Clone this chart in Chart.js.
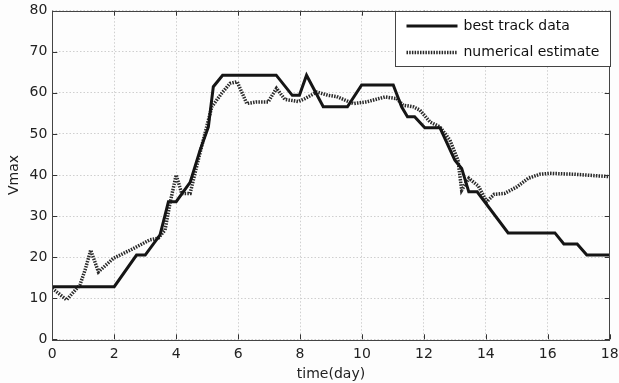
<!DOCTYPE html>
<html>
<head>
<meta charset="utf-8">
<script src="https://cdn.jsdelivr.net/npm/chart.js@4/dist/chart.umd.min.js"></script>
<style>
  html, body { margin: 0; padding: 0; background: #fdfdfd; }
  #wrap { width: 619px; height: 383px; }
</style>
</head>
<body>
<div id="wrap"><canvas id="myChart"></canvas></div>
<script>
// best track data (time in days, Vmax)
const bestDays = [0, 2.0, 2.72, 3.0, 3.48, 3.75, 4.0, 4.45, 4.77, 5.04, 5.2, 5.5, 7.23, 7.75, 7.98, 8.21, 8.75, 9.53, 9.99, 11.01, 11.28, 11.47, 11.7, 12.03, 12.52, 13.0, 13.22, 13.45, 13.72, 14.72, 16.23, 16.52, 16.95, 17.26, 18];
const bestVmax = [12.8, 12.8, 20.5, 20.5, 25.4, 33.5, 33.5, 38.2, 46, 51.7, 61.5, 64.3, 64.3, 59.4, 59.4, 64.3, 56.6, 56.6, 61.9, 61.9, 56.6, 54.2, 54.2, 51.5, 51.5, 43.6, 41.6, 35.9, 35.9, 25.9, 25.9, 23.2, 23.2, 20.5, 20.5];

// numerical estimate
const estDays = [0, 0.46, 0.89, 1.06, 1.24, 1.49, 1.97, 2.62, 3.15, 3.42, 3.64, 3.8, 4.0, 4.18, 4.45, 4.71, 5.15, 5.47, 5.74, 5.97, 6.28, 6.6, 6.97, 7.24, 7.51, 7.95, 8.16, 8.54, 8.91, 9.18, 9.72, 10.15, 10.74, 11.12, 11.33, 11.66, 11.87, 12.2, 12.52, 12.84, 13.1, 13.22, 13.45, 13.76, 14.03, 14.27, 14.6, 15.0, 15.37, 15.75, 16.07, 16.82, 18];
const estVmax = [12.4, 9.6, 13.2, 16.9, 21.7, 16.4, 19.7, 22.1, 24.2, 24.6, 26.6, 33.1, 40, 35.5, 35.5, 43.6, 56.6, 59.9, 62.3, 62.7, 57.4, 57.8, 57.8, 61.1, 58.4, 57.9, 58.6, 60.2, 59.4, 59.1, 57.4, 57.8, 59.0, 58.6, 57.0, 56.6, 55.8, 52.9, 51.7, 48.5, 43.6, 36.3, 39.2, 37.3, 33.5, 35.3, 35.5, 37.1, 39.2, 40.2, 40.4, 40.2, 39.6];

const seriesNames = ['best track data', 'numerical estimate'];
const xTicks = [0, 2, 4, 6, 8, 10, 12, 14, 16, 18];
const yTicks = [0, 10, 20, 30, 40, 50, 60, 70, 80];

const FONT = 'DejaVu Sans';

function toPoints(xs, ys) {
    return xs.map((x, i) => ({x: x, y: ys[i]}));
}

// frame box, inward ticks and the boxed legend
const framePlugin = {
    id: 'frame',
    afterDraw(chart) {
        const ctx = chart.ctx;
        const a = chart.chartArea;
        const xs = chart.scales.x, ys = chart.scales.y;
        ctx.save();
        ctx.strokeStyle = '#333';
        ctx.lineWidth = 1;
        ctx.beginPath();
        for (const t of xTicks) {
            const px = Math.round(xs.getPixelForValue(t)) + 0.5;
            ctx.moveTo(px, a.bottom); ctx.lineTo(px, a.bottom - 5);
            ctx.moveTo(px, a.top); ctx.lineTo(px, a.top + 5);
        }
        for (const t of yTicks) {
            const py = Math.round(ys.getPixelForValue(t)) + 0.5;
            ctx.moveTo(a.left, py); ctx.lineTo(a.left + 5, py);
            ctx.moveTo(a.right, py); ctx.lineTo(a.right - 5, py);
        }
        ctx.stroke();
        ctx.strokeStyle = '#444';
        ctx.strokeRect(Math.round(a.left) + 0.5, Math.round(a.top) + 0.5,
                       Math.round(a.right - a.left), Math.round(a.bottom - a.top));

        // legend
        const w = 215, h = 55;
        const lx = Math.round(a.right - w) + 0.5, ly = Math.round(a.top) + 0.5;
        ctx.fillStyle = '#fff';
        ctx.fillRect(lx, ly, w, h);
        ctx.strokeStyle = '#444';
        ctx.strokeRect(lx, ly, w, h);
        ctx.font = '14px "' + FONT + '"';
        ctx.textBaseline = 'middle';
        chart.data.datasets.forEach((ds, i) => {
            const cy = ly + 14.5 + i * 26.5;
            ctx.beginPath();
            ctx.strokeStyle = ds.borderColor;
            ctx.lineWidth = ds.borderWidth;
            ctx.setLineDash(ds.borderDash || []);
            ctx.moveTo(lx + 11, cy);
            ctx.lineTo(lx + 62, cy);
            ctx.stroke();
            ctx.setLineDash([]);
            ctx.fillStyle = '#111';
            ctx.fillText(ds.label, lx + 68, cy);
        });
        ctx.restore();
    }
};

const ctx = document.getElementById('myChart');
new Chart(ctx, {
    type: 'line',
    data: {
        datasets: [{
            label: seriesNames[0],
            data: toPoints(bestDays, bestVmax),
            borderColor: '#151515',
            borderWidth: 3,
            pointRadius: 0,
            tension: 0
        }, {
            label: seriesNames[1],
            data: toPoints(estDays, estVmax),
            borderColor: '#2a2a2a',
            borderWidth: 3.5,
            borderDash: [1.5, 1.2],
            pointRadius: 0,
            tension: 0
        }]
    },
    options: {
        responsive: true,
        maintainAspectRatio: false,
        animation: false,
        layout: { padding: { top: 10.7, right: 9.3, left: 0, bottom: 0 } },
        plugins: {
            legend: { display: false },
            tooltip: { enabled: false }
        },
        scales: {
            x: {
                type: 'linear',
                min: 0, max: 18,
                afterFit(scale) {
                    scale.height = 43.7;
                    scale.paddingLeft = 0;
                    scale.paddingRight = 0;
                },
                afterBuildTicks(scale) { scale.ticks = xTicks.map(v => ({value: v})); },
                ticks: { color: '#222', font: { family: FONT, size: 14 }, padding: 7 },
                grid: { color: '#cfcfcf', drawTicks: false },
                border: { display: false, dash: [1.5, 2] },
                title: { display: true, text: 'time(day)', color: '#222',
                         font: { family: FONT, size: 14 }, padding: { top: 0, bottom: 0 } }
            },
            y: {
                min: 0, max: 80,
                afterFit(scale) {
                    scale.width = 52.3;
                    scale.paddingTop = 0;
                    scale.paddingBottom = 0;
                },
                afterBuildTicks(scale) { scale.ticks = yTicks.map(v => ({value: v})); },
                ticks: { color: '#222', font: { family: FONT, size: 14 }, padding: 5 },
                grid: { color: '#cfcfcf', drawTicks: false },
                border: { display: false, dash: [1.5, 2] },
                title: { display: true, text: 'Vmax', color: '#222',
                         font: { family: FONT, size: 14 }, padding: { top: 6, bottom: 0 } }
            }
        }
    },
    plugins: [framePlugin]
});
</script>
</body>
</html>
